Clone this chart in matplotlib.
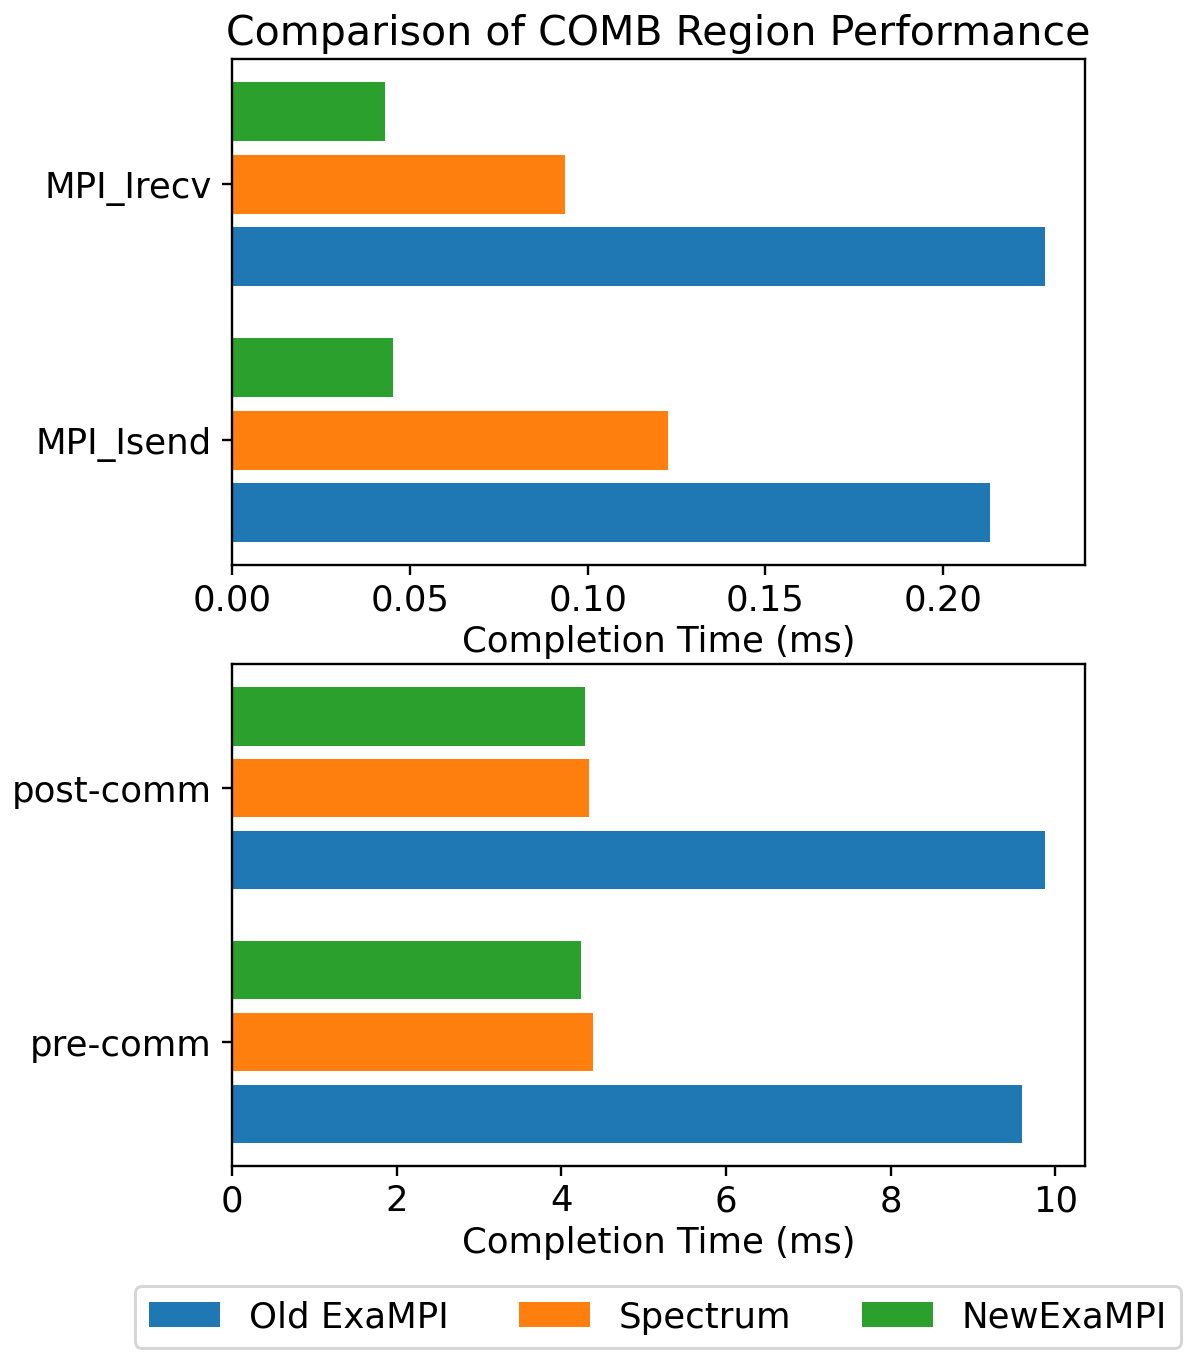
import numpy as np
import matplotlib
matplotlib.use("Agg")
import matplotlib.pyplot as plt

# values (ms)
mpi_regions = ["MPI_Isend", "MPI_Irecv"]
mpi_old = [0.2132, 0.2285]
mpi_spectrum = [0.1227, 0.0937]
mpi_new = [0.0453, 0.0430]

comm_regions = ["pre-comm", "post-comm"]
comm_old = [9.59, 9.87]
comm_spectrum = [4.38, 4.33]
comm_new = [4.24, 4.29]

labels = ["Old ExaMPI", "Spectrum", "NewExaMPI"]
colors = ["#1f77b4", "#ff7f0e", "#2ca02c"]

bar_h = 0.23
step = 0.283


def draw(ax, regions, old, spec, new):
    y = np.arange(len(regions))
    ax.barh(y - step, old, bar_h, color=colors[0], label=labels[0])
    ax.barh(y, spec, bar_h, color=colors[1], label=labels[1])
    ax.barh(y + step, new, bar_h, color=colors[2], label=labels[2])
    ax.set_yticks(y)
    ax.set_yticklabels(regions, fontsize=12)
    ax.tick_params(axis="x", labelsize=12, pad=2.5)
    ax.set_xlabel("Completion Time (ms)", fontsize=12, labelpad=2.6)


def main():
    fig = plt.figure(figsize=(1196.5 / 213, 1362.5 / 213), dpi=213)
    top = fig.add_axes([0.194, 0.585, 0.713, 0.371])
    bot = fig.add_axes([0.194, 0.144, 0.713, 0.368])

    draw(top, mpi_regions, mpi_old, mpi_spectrum, mpi_new)
    draw(bot, comm_regions, comm_old, comm_spectrum, comm_new)
    top.set_title("Comparison of COMB Region Performance", fontsize=13.9, pad=5)

    handles, names = top.get_legend_handles_labels()
    fig.legend(handles, names, loc="center", bbox_to_anchor=(0.550, 0.033),
               ncol=3, fontsize=12)

    fig.savefig("out.png", dpi=213)


if __name__ == "__main__":
    main()
